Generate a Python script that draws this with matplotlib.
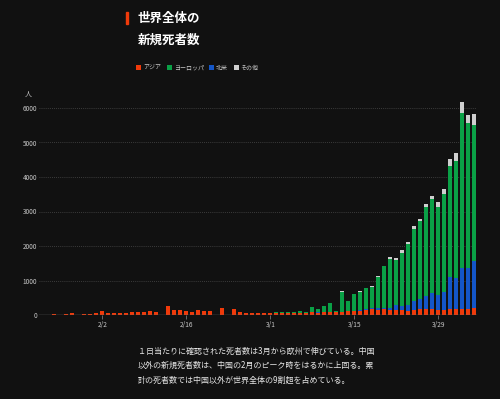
import matplotlib
matplotlib.use("Agg")
import matplotlib.pyplot as plt
from matplotlib.patches import Rectangle
import numpy as np
import pandas as pd

plt.rcParams['font.family'] = ['Noto Sans CJK JP', 'DejaVu Sans']

# Daily new deaths, 2020-01-23 .. 2020-04-04
start_date = "2020-01-23"
end_date = "2020-04-04"

asia = [1, 8, 16, 14, 26, 49, 2, 38, 42, 46,
        103, 64, 66, 72, 70, 85, 87, 100, 107, 100,
        5, 253, 152, 143, 104, 98, 139, 115, 125, 4,
        207, 11, 160, 79, 62, 44, 58, 62, 50, 67,
        45, 58, 46, 55, 55, 80, 70, 80, 90, 85,
        90, 110, 115, 125, 135, 160, 150, 160, 135, 145,
        135, 126, 150, 184, 164, 164, 135, 135, 164, 174,
        174, 174, 193]
europe = [0] * 37 + [
        7, 5, 20,
        28, 30, 45, 55, 40, 160, 112, 190, 258, 12,
        580, 290, 485, 530, 610, 620, 900, 1200, 1431, 1310,
        1530, 1760, 2085, 2251, 2579, 2725, 2541, 2822, 3227, 3401,
        4474, 4184, 3952]
namerica = [0] * 37 + [
        0, 0, 2,
        2, 6, 3, 2, 3, 4, 4, 4, 5, 8,
        10, 10, 15, 22, 25, 35, 60, 55, 68, 135,
        135, 164, 255, 280, 387, 464, 454, 541, 937, 898,
        1198, 1198, 1372]
other = [0] * 37 + [
        0, 0, 0,
        0, 0, 0, 0, 0, 0, 0, 0, 0, 0,
        4, 5, 6, 9, 9, 13, 24, 17, 40, 60,
        74, 68, 76, 74, 98, 101, 143, 159, 197, 229,
        328, 248, 302]

series_names = ["アジア", "ヨーロッパ", "北米", "その他"]
series_colors = ["#f03a0a", "#0aa046", "#1456c8", "#cfcfcf"]
stack_order = [0, 2, 1, 3]  # bottom to top: Asia, North America, Europe, Other

tick_dates = ["2020-02-02", "2020-02-16", "2020-03-01", "2020-03-15", "2020-03-29"]
tick_labels = ["2/2", "2/16", "3/1", "3/15", "3/29"]
y_ticks = [0, 1000, 2000, 3000, 4000, 5000, 6000]

dates = pd.date_range(start_date, end_date)
x = np.arange(len(dates))

BG = "#111111"
fig = plt.figure(figsize=(5, 3.99), dpi=100, facecolor=BG)
ax = fig.add_axes([39 / 500, 1 - 315 / 399, 438 / 500, 224.25 / 399])
ax.set_facecolor(BG)

all_series = [asia, europe, namerica, other]
bottom = np.zeros(len(x))
handles = [None] * 4
for i in stack_order:
    v = np.array(all_series[i], dtype=float)
    b = ax.bar(x, v, width=0.65, bottom=bottom, color=series_colors[i],
               label=series_names[i], linewidth=0, zorder=3)
    handles[i] = b
    bottom += v

ax.set_xlim(-0.55, len(x) - 1 + 0.45)
ax.set_ylim(0, 6500)

for s in ax.spines.values():
    s.set_visible(False)
ax.axhline(0, color="#6a6a6a", lw=1.0, zorder=4)

ax.set_yticks(y_ticks)
ax.set_yticklabels([str(v) for v in y_ticks])
for v in y_ticks[1:]:
    ax.axhline(v, color="#4a4a4a", lw=0.6, ls=(0, (1, 1.5)), zorder=1)
ax.tick_params(axis="y", length=0, pad=1.5, labelsize=4.6, labelcolor="#c8c8c8")

tick_pos = [list(dates).index(pd.Timestamp(d)) for d in tick_dates]
ax.set_xticks(tick_pos)
ax.set_xticklabels(tick_labels)
ax.tick_params(axis="x", length=3, width=0.6, color="#777777", pad=1,
               labelsize=4.8, labelcolor="#c8c8c8")

# Title
fig.patches.append(Rectangle((126 / 500, 1 - 24 / 399), 1.6 / 500, 11.5 / 399,
                             transform=fig.transFigure, color="#f03a0a"))
fig.text(138 / 500, 1 - 18.5 / 399, "世界全体の", fontsize=9, weight="bold",
         color="white", va="center", ha="left")
fig.text(138 / 500, 1 - 40.5 / 399, "新規死者数", fontsize=9, weight="bold",
         color="white", va="center", ha="left")

fig.legend(handles=handles, labels=series_names, loc="center left",
           bbox_to_anchor=(136 / 500, 1 - 68 / 399), ncol=4, frameon=False,
           fontsize=4.3, handlelength=0.9, handleheight=0.9, handletextpad=0.3,
           columnspacing=0.9, labelcolor="#cccccc", borderaxespad=0, borderpad=0)

fig.text(25 / 500, 1 - 95 / 399, "人", fontsize=5, color="#c8c8c8", va="center", ha="left")

lines = ["１日当たりに確認された死者数は3月から欧州で伸びている。中国",
         "以外の新規死者数は、中国の2月のピーク時をはるかに上回る。累",
         "計の死者数では中国以外が世界全体の9割超を占めている。"]
for i, t in enumerate(lines):
    fig.text(138 / 500, 1 - (351 + 14.7 * i) / 399, t, fontsize=5.8,
             color="#e6e6e6", va="center", ha="left")

fig.savefig("out.png", dpi=100, facecolor=BG)
